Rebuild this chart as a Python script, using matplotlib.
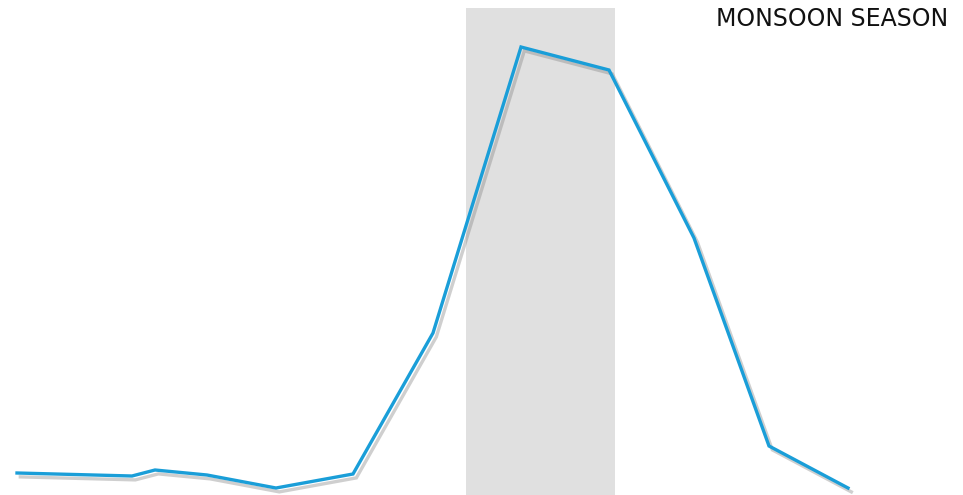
import matplotlib
matplotlib.use("Agg")
import matplotlib.pyplot as plt
import matplotlib.patheffects as pe

# Data (x: position along the year, y: rainfall units)
day = [17, 132, 155, 207, 276, 353, 433, 521, 609, 694, 769, 848]
rainfall = [22, 19, 25, 20, 7, 21, 162, 448, 425, 257, 49, 7]
monsoon_start = 466
monsoon_end = 615
monsoon_label = "MONSOON SEASON"

fig = plt.figure(figsize=(9.63, 4.95), dpi=100)
ax = fig.add_axes([0, 0, 1, 1])
ax.set_xlim(0, 963)
ax.set_ylim(0, 495)
ax.axis("off")

ax.axvspan(monsoon_start, monsoon_end, ymin=0, ymax=487 / 495,
           color="#e0e0e0", zorder=1, lw=0)

ax.plot(day, rainfall, color="#1a9ed8", lw=2.4, solid_joinstyle="miter",
        zorder=3,
        path_effects=[pe.SimpleLineShadow(offset=(2.4, -2.8), shadow_color="#888888", alpha=0.4),
                      pe.Normal()])

ax.text(948, 476, monsoon_label, ha="right", va="center", fontsize=17,
        family="DejaVu Sans", color="#111111", zorder=4)

fig.savefig("out.png", dpi=100)
